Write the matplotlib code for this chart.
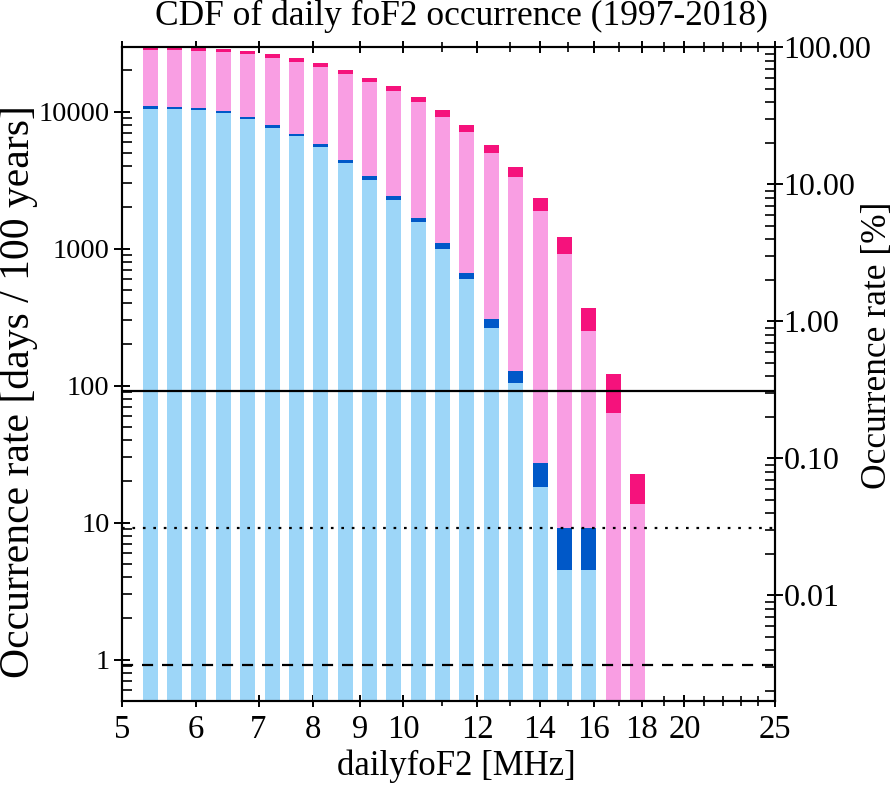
import matplotlib
matplotlib.use("Agg")
import matplotlib.pyplot as plt
import numpy as np
from matplotlib.ticker import FixedLocator, FixedFormatter, NullFormatter, LogLocator

plt.rcParams['font.family'] = ['Liberation Serif', 'DejaVu Serif']

# bin centres of daily foF2 [MHz]
foF2_bins = [5.36, 5.69, 6.04, 6.42, 6.82, 7.24, 7.69, 8.16, 8.67, 9.20, 9.77,
             10.38, 11.02, 11.70, 12.43, 13.20, 14.01, 14.88, 15.80, 16.78, 17.82]

# occurrence rate [days / 100 years]
pink_high = [29450, 29400, 29300, 28760, 27670, 26180, 24480, 22620, 20110, 17670, 15290,
             12780, 10270, 7945, 5680, 3965, 2330, 1211, 368, 122, 22.7]
pink_low = [28140, 28000, 27810, 27350, 26180, 24730, 23000, 21260, 18900, 16440, 14060,
            11690, 9180, 7063, 4963, 3352, 1893, 919, 251, 63.0, 13.7]
blue_high = [10990, 10800, 10620, 10150, 9180, 7985, 6900, 5775, 4460, 3375, 2424,
             1675, 1106, 668, 306, 127, 27.2, 9.1, 9.1, 0, 0]
blue_low = [10500, 10390, 10220, 9770, 8785, 7630, 6600, 5490, 4220, 3187, 2266,
            1565, 995, 598, 265, 104, 18.2, 4.55, 4.55, 0, 0]

ref_levels = [91, 9.1, 0.91]
ref_styles = ['-', (0, (1.2, 3.5)), (0, (5, 4))]

xticks_major = [5, 6, 7, 8, 9, 10, 12, 14, 16, 18, 20, 25]
xticks_minor = [11, 13, 15, 17, 19, 21, 22, 23, 24]

ymin, ymax = 0.5, 29450

fig = plt.figure(figsize=(8.95, 7.88), dpi=100)
ax = fig.add_axes([0.1363, 0.1104, 0.7296, 0.8296])

f = np.array(foF2_bins)
hw = 0.0185
left = f * np.exp(-hw)
width = f * (np.exp(hw) - np.exp(-hw))
base = 0.1

def draw(vals, color):
    v = np.array(vals, dtype=float)
    m = v > 0
    ax.bar(left[m], v[m] - base, width=width[m], bottom=base, align='edge',
           color=color, edgecolor='none', zorder=2)

draw(pink_high, '#f5127c')
draw(pink_low, '#f99ee3')
draw(blue_high, '#0058c8')
draw(blue_low, '#9dd6f8')

for lev, ls in zip(ref_levels, ref_styles):
    ax.axhline(lev, color='black', lw=1.6, ls=ls, zorder=3)

ax.set_xscale('log')
ax.set_yscale('log')
ax.set_xlim(5, 25)
ax.set_ylim(ymin, ymax)

ax.xaxis.set_major_locator(FixedLocator(xticks_major))
ax.xaxis.set_major_formatter(FixedFormatter([str(t) for t in xticks_major]))
ax.xaxis.set_minor_locator(FixedLocator(xticks_minor))
ax.xaxis.set_minor_formatter(NullFormatter())

ax.yaxis.set_major_locator(FixedLocator([1, 10, 100, 1000, 10000]))
ax.yaxis.set_major_formatter(FixedFormatter(['1', '10', '100', '1000', '10000']))
ax.yaxis.set_minor_locator(LogLocator(base=10, subs=np.arange(2, 10)))
ax.yaxis.set_minor_formatter(NullFormatter())

ax.tick_params(axis='x', which='major', direction='inout', length=9, width=1.4,
               labelsize=23.5, top=True, pad=5)
ax.tick_params(axis='x', which='minor', direction='inout', length=7, width=1.2, top=True)
ax.tick_params(axis='y', which='major', direction='inout', length=12, width=1.4,
               labelsize=20.5, right=False, pad=3)
ax.tick_params(axis='y', which='minor', direction='in', length=7, width=1.2, right=False)

for s in ax.spines.values():
    s.set_linewidth(1.5)

fig.text(461 / 895, 1 - 16 / 788, 'CDF of daily foF2 occurrence (1997-2018)',
         fontsize=25.5, ha='center', va='center')
fig.text(456 / 895, 1 - 766 / 788, 'dailyfoF2 [MHz]', fontsize=25,
         ha='center', va='center')
fig.text(19 / 895, 1 - 392 / 788, 'Occurrence rate [days / 100 years]', fontsize=30,
         rotation=90, ha='center', va='center')

ax2 = ax.twinx()
ax2.set_yscale('log')
ax2.set_ylim(ymin / ymax * 100, 100)
ax2.yaxis.set_major_locator(FixedLocator([0.01, 0.1, 1, 10, 100]))
ax2.yaxis.set_major_formatter(FixedFormatter(['0.01', '0.10', '1.00', '10.00', '100.00']))
ax2.yaxis.set_minor_locator(LogLocator(base=10, subs=np.arange(2, 10)))
ax2.yaxis.set_minor_formatter(NullFormatter())
ax2.tick_params(axis='y', which='major', direction='inout', length=12, width=1.4,
                labelsize=23, pad=0)
ax2.tick_params(axis='y', which='minor', direction='in', length=7, width=1.2)
for s in ax2.spines.values():
    s.set_linewidth(1.5)
fig.text(878 / 895, 1 - 345 / 788, 'Occurrence rate [%]', fontsize=25.5,
         rotation=90, ha='center', va='center')

plt.savefig('out.png', dpi=100)
